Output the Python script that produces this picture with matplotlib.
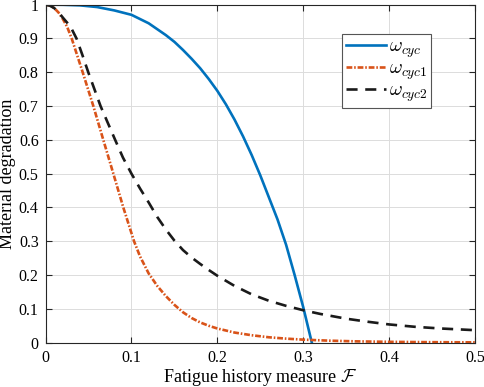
import matplotlib
matplotlib.use("Agg")
import matplotlib.pyplot as plt

# values
x_cyc = [0, 0.02, 0.04, 0.06, 0.08, 0.1, 0.12, 0.14, 0.15, 0.16, 0.17, 0.18, 0.19, 0.2,
         0.21, 0.22, 0.23, 0.24, 0.25, 0.26, 0.27, 0.28, 0.29, 0.3, 0.31]
w_cyc = [1, 0.9997, 0.998, 0.993, 0.983, 0.97, 0.945, 0.91, 0.89, 0.866, 0.84, 0.812, 0.78, 0.745,
         0.705, 0.66, 0.61, 0.555, 0.495, 0.43, 0.365, 0.29, 0.2, 0.105, 0.0]

x_cyc1 = [0, 0.005, 0.01, 0.015, 0.02, 0.025, 0.0304, 0.0432, 0.0556, 0.0672, 0.0789, 0.0905,
          0.103, 0.11, 0.12, 0.13, 0.14, 0.15, 0.16, 0.17, 0.18, 0.19, 0.2, 0.22, 0.24,
          0.26, 0.28, 0.3, 0.33, 0.36, 0.4, 0.45, 0.5]
w_cyc1 = [1, 0.998, 0.99, 0.977, 0.958, 0.935, 0.9, 0.8, 0.7, 0.6, 0.5, 0.4,
          0.3, 0.255, 0.205, 0.168, 0.138, 0.112, 0.09, 0.073, 0.06, 0.05, 0.042, 0.03, 0.022,
          0.016, 0.012, 0.009, 0.006, 0.004, 0.0025, 0.0015, 0.001]

x_cyc2 = [0, 0.005, 0.01, 0.015, 0.02, 0.025, 0.03, 0.036, 0.043, 0.0497, 0.064, 0.081, 0.09, 0.1,
          0.11, 0.12, 0.13, 0.14, 0.15, 0.16, 0.17, 0.18, 0.19, 0.2, 0.22, 0.24, 0.26, 0.28,
          0.3, 0.32, 0.35, 0.375, 0.4, 0.43, 0.46, 0.5]
w_cyc2 = [1, 0.997, 0.99, 0.978, 0.962, 0.947, 0.93, 0.9, 0.85, 0.8, 0.7, 0.6, 0.548, 0.5,
          0.456, 0.415, 0.372, 0.335, 0.302, 0.274, 0.252, 0.233, 0.215, 0.198, 0.168, 0.143,
          0.124, 0.109, 0.096, 0.085, 0.071, 0.062, 0.054, 0.047, 0.042, 0.037]

x_ticks = [0, 0.1, 0.2, 0.3, 0.4, 0.5]
x_tick_labels = ['0', '0.1', '0.2', '0.3', '0.4', '0.5']
y_ticks = [0, 0.1, 0.2, 0.3, 0.4, 0.5, 0.6, 0.7, 0.8, 0.9, 1]
y_tick_labels = ['0', '0.1', '0.2', '0.3', '0.4', '0.5', '0.6', '0.7', '0.8', '0.9', '1']

plt.rcParams['font.family'] = 'Liberation Serif'
plt.rcParams['mathtext.fontset'] = 'cm'

fig = plt.figure(figsize=(4.84, 3.87), dpi=100)
ax = fig.add_axes([0.0942, 0.1145, 0.8872, 0.8734])

ax.plot(x_cyc, w_cyc, color='#0072BD', lw=1.9, label=r'$\omega_{cyc}$')
ax.plot(x_cyc1, w_cyc1, color='#D95319', lw=1.9, linestyle=(0, (2.2, 0.7, 0.6, 0.7)),
        label=r'$\omega_{cyc1}$')
ax.plot(x_cyc2, w_cyc2, color='#1a1a1a', lw=1.9, linestyle=(0, (4.2, 2.9)), label=r'$\omega_{cyc2}$')

ax.set_xlim(0, 0.5)
ax.set_ylim(0, 1)
ax.set_xticks(x_ticks)
ax.set_xticklabels(x_tick_labels)
ax.set_yticks(y_ticks)
ax.set_yticklabels(y_tick_labels)
ax.tick_params(direction='in', labelsize=11.5, top=True, right=True, color='#262626', length=4, pad=5)
for s in ax.spines.values():
    s.set_color('#262626')
    s.set_linewidth(0.8)
ax.grid(True, color='#dcdcdc', lw=0.7)
ax.set_axisbelow(True)

ax.set_xlabel(r'Fatigue history measure $\mathcal{F}$', fontsize=13)
ax.xaxis.set_label_coords(0.5, -0.071)
ax.set_ylabel('Material degradation', fontsize=13)
ax.yaxis.set_label_coords(-0.069, 0.5)

leg = ax.legend(loc='upper left', bbox_to_anchor=(0.7066, 0.9121), bbox_transform=fig.transFigure,
                borderaxespad=0, fontsize=14, fancybox=False, framealpha=1, edgecolor='#555555',
                handlelength=2.05, borderpad=0.2, labelspacing=0.0, handletextpad=0.15)
leg.get_frame().set_linewidth(0.8)

fig.savefig('out.png', dpi=100)
